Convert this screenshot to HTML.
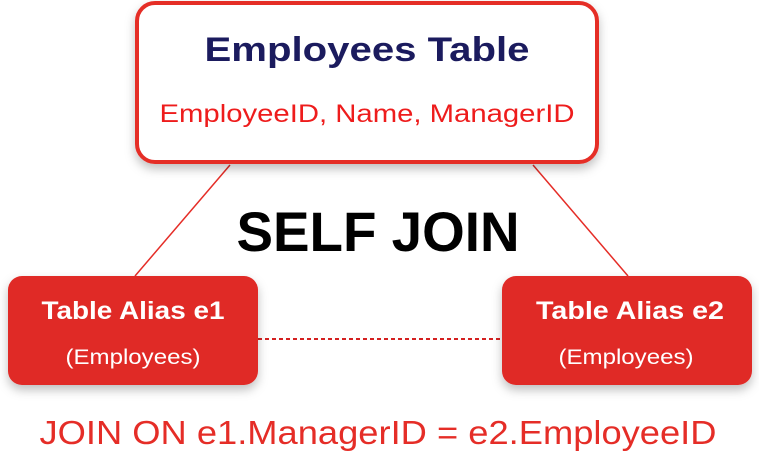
<!DOCTYPE html>
<html><head><meta charset="utf-8"><style>
html,body{margin:0;padding:0;background:#fff;}
svg{display:block;font-family:"Liberation Sans",sans-serif;}
</style></head><body>
<svg width="759" height="456" viewBox="0 0 759 456">
<defs><filter id="sh" x="-10%" y="-10%" width="120%" height="130%"><feDropShadow dx="0" dy="5" stdDeviation="5" flood-color="#000" flood-opacity="0.25"/></filter></defs>
<line x1="230" y1="165" x2="135" y2="276" stroke="#e52d27" stroke-width="1.5"/>
<line x1="533" y1="165" x2="628" y2="276" stroke="#e52d27" stroke-width="1.5"/>
<line x1="258" y1="339" x2="502" y2="339" stroke="#d42020" stroke-width="2" stroke-dasharray="4,3"/>
<g>
<rect x="137" y="3" width="460" height="159" rx="18" fill="#fff" stroke="#e52d27" stroke-width="4" filter="url(#sh)"/>
<text x="367" y="61" text-anchor="middle" font-size="34" font-weight="bold" fill="#1b1b5e" textLength="325" lengthAdjust="spacingAndGlyphs">Employees Table</text>
<text x="367" y="122" text-anchor="middle" font-size="25" fill="#ee1c1c" textLength="415" lengthAdjust="spacingAndGlyphs">EmployeeID, Name, ManagerID</text>
</g>
<text x="378" y="251" text-anchor="middle" font-size="56" font-weight="bold" fill="#000" textLength="283" lengthAdjust="spacingAndGlyphs">SELF JOIN</text>
<g>
<rect x="8" y="276" width="250" height="109" rx="14" fill="#e02a26" filter="url(#sh)"/>
<text x="133" y="319" text-anchor="middle" font-size="25" font-weight="bold" fill="#fff" textLength="183" lengthAdjust="spacingAndGlyphs">Table Alias e1</text>
<text x="133" y="364" text-anchor="middle" font-size="21" fill="#fff" textLength="135" lengthAdjust="spacingAndGlyphs">(Employees)</text>
</g>
<g>
<rect x="502" y="276" width="250" height="109" rx="14" fill="#e02a26" filter="url(#sh)"/>
<text x="630" y="319" text-anchor="middle" font-size="25" font-weight="bold" fill="#fff" textLength="188" lengthAdjust="spacingAndGlyphs">Table Alias e2</text>
<text x="626" y="364" text-anchor="middle" font-size="21" fill="#fff" textLength="135" lengthAdjust="spacingAndGlyphs">(Employees)</text>
</g>
<text x="378" y="444" text-anchor="middle" font-size="33" fill="#e52d27" textLength="677" lengthAdjust="spacingAndGlyphs">JOIN ON e1.ManagerID = e2.EmployeeID</text>
</svg>
</body></html>
